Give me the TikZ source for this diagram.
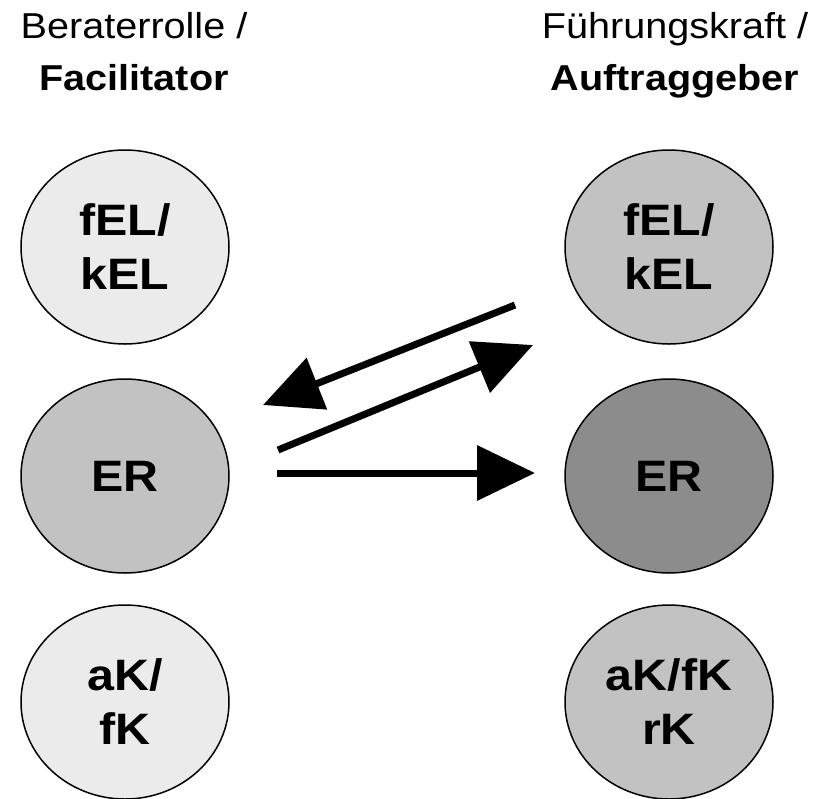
\documentclass[tikz,border=0pt]{standalone}
\usepackage{fontspec}
\setmainfont{Liberation Sans}[FakeStretch=1.1]
\usetikzlibrary{shapes.geometric,arrows.meta,positioning}
\definecolor{hell}{gray}{0.92}
\definecolor{mittel}{gray}{0.76}
\definecolor{dunkel}{gray}{0.55}

\tikzset{
  kreis/.style={ellipse, draw, line width=0.75pt, minimum width=104pt, minimum height=97pt,
    inner sep=0pt, align=center, font=\fontsize{22}{27}\selectfont\bfseries},
  kopf/.style={anchor=base, font=\fontsize{18}{22}\selectfont},
  pfeil/.style={line width=3.5pt, -{Triangle[length=29pt,width=27pt]}}
}

\begin{document}
\begin{tikzpicture}[on grid]
\useasboundingbox (0,0) rectangle (409.5pt,-399pt);
\node[kopf] (berater) at (67pt,-19pt) {Beraterrolle /};
\node[kopf] (facil) at (67pt,-45pt) {\bfseries Facilitator};
\node[kopf] (fuehr) at (337.5pt,-19pt) {Führungskraft /};
\node[kopf] (auftr) at (337.5pt,-45pt) {\bfseries Auftraggeber};

\node[kreis, fill=hell] (felL) at (62.5pt,-123.5pt) {fEL/\\kEL};
\node[kreis, fill=mittel, below=114.5pt of felL] (erL) {ER};
\node[kreis, fill=hell, below=113pt of erL] (akL) {aK/\\fK};
\node[kreis, fill=mittel, right=272pt of felL] (felR) {fEL/\\kEL};
\node[kreis, fill=dunkel, right=272pt of erL] (erR) {ER};
\node[kreis, fill=mittel, right=272pt of akL] (akR) {aK/fK\\rK};

\coordinate (p1s) at (257.5pt,-152.5pt);
\coordinate (p1e) at (131.5pt,-202.5pt);
\coordinate (p2s) at (139pt,-225pt);
\coordinate (p2e) at (266.5pt,-172.5pt);
\coordinate (p3s) at (138.5pt,-236.5pt);
\coordinate (p3e) at (267.5pt,-236.5pt);
\draw[pfeil] (p1s) -- (p1e);
\draw[pfeil] (p2s) -- (p2e);
\draw[pfeil] (p3s) -- (p3e);
\end{tikzpicture}
\end{document}
